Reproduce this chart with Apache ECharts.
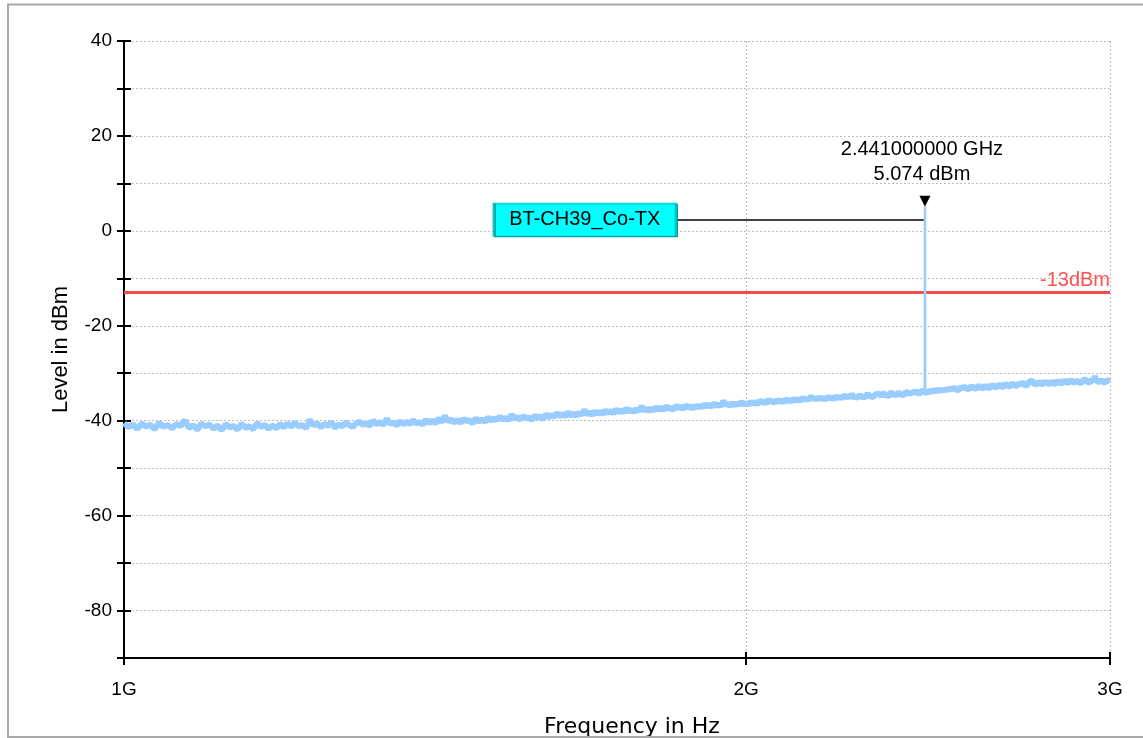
<!DOCTYPE html>
<html>
<head>
<meta charset="utf-8">
<script src="https://cdn.jsdelivr.net/npm/echarts@6/dist/echarts.min.js"></script>
<style>
html,body{margin:0;padding:0;background:#fff;}
#chart{width:1143px;height:738px;}
</style>
</head>
<body>
<div id="chart"></div>
<script>
// ---- data ----
const sweepStartGHz = 1.0;
const sweepStepGHz = 0.005;
const traceLevels = [
  -40.5,-41.4,-40.8,-41.7,-40.6,-41.2,-40.9,-41.8,-40.4,-41.3,-40.9,-41.6,-40.7,-41.1,-39.9,-41.5,-41.0,-41.9,-40.6,-41.2,
  -40.8,-41.7,-41.0,-42.0,-40.7,-41.4,-41.1,-41.9,-40.6,-41.5,-41.2,-41.8,-40.5,-41.3,-40.9,-41.7,-41.0,-41.6,-40.7,-41.4,
  -40.6,-41.3,-40.4,-41.2,-40.9,-41.6,-39.8,-41.0,-40.5,-41.4,-40.7,-41.1,-40.3,-41.5,-40.8,-41.2,-40.4,-40.9,-41.3,-40.6,
  -40.2,-40.9,-40.5,-41.1,-40.0,-40.7,-40.3,-40.9,-39.6,-40.6,-40.4,-41.0,-40.1,-40.8,-40.2,-40.7,-39.9,-40.6,-40.3,-40.8,
  -39.8,-40.5,-39.9,-40.6,-39.5,-40.3,-39.0,-40.2,-39.7,-40.4,-39.8,-40.5,-39.6,-40.1,-39.9,-40.6,-39.5,-40.2,-39.7,-40.3,
  -39.3,-40.0,-39.5,-39.9,-39.1,-39.8,-39.4,-39.9,-38.7,-39.6,-39.2,-39.8,-39.0,-39.5,-39.3,-39.9,-38.9,-39.4,-39.1,-39.7,
  -38.6,-39.3,-38.8,-39.2,-38.4,-39.0,-38.6,-39.1,-38.2,-38.9,-38.5,-39.0,-38.3,-38.8,-37.7,-38.7,-38.2,-38.8,-38.0,-38.6,
  -38.1,-38.6,-37.8,-38.4,-37.9,-38.5,-37.6,-38.2,-37.8,-38.3,-37.4,-38.1,-37.7,-38.2,-37.5,-38.0,-36.9,-37.9,-37.4,-38.0,
  -37.4,-37.9,-37.1,-37.7,-37.2,-37.8,-36.9,-37.5,-37.3,-37.7,-36.8,-37.4,-37.0,-37.6,-36.7,-37.3,-36.9,-37.5,-36.8,-37.2,
  -36.8,-37.2,-36.5,-37.0,-36.6,-37.1,-36.3,-36.9,-36.5,-37.0,-35.8,-36.7,-36.4,-36.9,-36.2,-36.8,-36.3,-36.7,-36.0,-36.6,
  -36.3,-36.7,-35.9,-36.5,-36.0,-36.6,-35.7,-36.2,-35.9,-36.4,-35.5,-36.1,-35.8,-36.3,-35.6,-36.0,-35.7,-36.2,-35.4,-35.9,
  -35.6,-36.0,-35.3,-35.8,-35.4,-35.9,-35.1,-35.6,-35.3,-35.7,-34.8,-35.5,-35.2,-35.6,-35.0,-35.5,-35.1,-35.6,-34.9,-35.3,
  -35.1,-35.5,-34.8,-35.3,-34.9,-35.4,-34.6,-35.1,-34.8,-35.2,-34.4,-35.0,-34.7,-35.1,-34.5,-35.0,-34.6,-35.0,-34.3,-34.8,
  -34.7,-35.0,-34.4,-34.8,-34.3,-34.9,-34.1,-34.6,-34.4,-34.8,-33.9,-34.5,-34.2,-34.6,-34.0,-34.5,-34.1,-34.6,-33.9,-34.3,
  -34.3,-34.6,-34.0,-34.4,-33.9,-34.5,-33.8,-34.2,-33.7,-34.4,-33.5,-34.2,-33.4,-34.1,-33.3,-34.0,-33.2,-33.9,-33.3,-33.8,
  -33.2,-33.7,-33.0,-33.5,-32.9,-33.4,-33.1,-33.6,-32.8,-33.3,-32.7,-33.2,-32.9,-33.4,-32.6,-33.1,-32.8,-33.3,-32.5,-33.0,
  -32.7,-33.2,-32.5,-33.0,-32.6,-33.1,-32.3,-32.8,-32.5,-33.0,-32.2,-32.7,-32.4,-32.9,-32.1,-32.6,-32.3,-32.8,-32.0,-32.5,
  -32.2,-32.7,-32.0,-32.5,-31.8,-32.4,-32.1,-32.6,-31.9,-32.3,-31.5,-32.2,-31.9,-32.4,-31.7,-32.2,-31.8,-32.3,-31.6,-32.1,
  -31.8,-32.3,-31.6,-32.1,-31.7,-32.2,-31.5,-32.0,-31.7,-32.1,-31.4,-31.9,-31.6,-32.1,-31.3,-31.8,-31.6,-32.0,-31.4,-31.9,
  -31.6,-32.1,-31.5,-31.9,-31.3,-31.8,-31.5,-32.0,-31.2,-31.7,-30.6,-31.6,-31.4,-31.9,-31.3,-31.8,-31.5,-32.0,-31.4,-31.8,
  -31.7
];
const peakFreqsGHz = [2.4405, 2.441, 2.4415];
const peakLevels = [-34.0, 5.074, -33.9];
const markerFreqGHz = 2.441;
const markerLevel = 5.074;
const markerName = 'BT-CH39_Co-TX';
const markerBoxFreqGHz = 1.671;
const markerBoxLevel = 2.4;
const limitLevel = -13;
const limitText = '-13dBm';
const xTickValuesGHz = [1, 2, 3];
const xTickLabels = ['1G', '2G', '3G'];

// ---- build the traces ----
const trace = traceLevels.map((lv, i) => [(sweepStartGHz + i * sweepStepGHz) * 1e9, lv]);
const peakTrace = peakFreqsGHz.map((f, i) => [f * 1e9, peakLevels[i]]);

const FONT = 'Liberation Sans, Arial, sans-serif';
const xTickVals = xTickValuesGHz.map(v => v * 1e9);
const xLabelFmt = v => {
  const g = Math.round(v / 1e8) / 10;
  const idx = xTickValuesGHz.indexOf(g);
  return idx >= 0 ? xTickLabels[idx] : '';
};

const chart = echarts.init(document.getElementById('chart'), null, {renderer: 'canvas'});
chart.setOption({
  animation: false,
  backgroundColor: '#fff',
  grid: {left: 124, right: 33, top: 41, bottom: 80, containLabel: false, outerBoundsMode: 'none'},
  graphic: [{
    type: 'rect', silent: true, z: 100,
    shape: {x: 8, y: 4.5, width: 1160, height: 732.5},
    style: {fill: 'none', stroke: '#a9a9a9', lineWidth: 2}
  }],
  xAxis: [{
    type: 'log', logBase: 10, min: 1e9, max: 3e9, position: 'bottom',
    name: 'Frequency in Hz', nameLocation: 'middle', nameGap: 58,
    nameTextStyle: {fontFamily: 'DejaVu Sans, sans-serif', fontSize: 22, color: '#000', padding: [0, 0, 0, 30]},
    axisLine: {show: true, onZero: false, lineStyle: {color: '#000', width: 2}},
    axisTick: {show: true, inside: false, length: 7, customValues: xTickVals, lineStyle: {color: '#000', width: 2}},
    axisLabel: {show: true, customValues: xTickVals, formatter: xLabelFmt, margin: 22, fontFamily: FONT, fontSize: 19, color: '#000', showMinLabel: true, showMaxLabel: true},
    splitLine: {show: true, lineStyle: {color: '#bdbdbd', width: 1, type: [2, 2]}},
    minorTick: {show: false}, minorSplitLine: {show: false}
  }, {
    type: 'log', logBase: 10, min: 1e9, max: 3e9, position: 'bottom',
    axisLine: {show: false, onZero: false},
    axisTick: {show: true, inside: true, length: 6, customValues: [2e9, 3e9], lineStyle: {color: '#000', width: 2}},
    axisLabel: {show: false},
    splitLine: {show: false}
  }],
  yAxis: [{
    type: 'value', min: -90, max: 40, interval: 10, position: 'left',
    name: 'Level in dBm', nameLocation: 'middle', nameRotate: 90, nameGap: 52,
    nameTextStyle: {fontFamily: FONT, fontSize: 22, color: '#000'},
    axisLine: {show: true, onZero: false, lineStyle: {color: '#000', width: 2}},
    axisTick: {show: true, inside: false, length: 7, lineStyle: {color: '#000', width: 2}},
    axisLabel: {show: true, margin: 12, fontFamily: FONT, fontSize: 19, color: '#000',
      formatter: v => (v % 20 === 0 ? String(v) : '')},
    splitLine: {show: true, lineStyle: {color: '#bdbdbd', width: 1, type: [2, 2]}}
  }, {
    type: 'value', min: -90, max: 40, interval: 10, position: 'left',
    axisLine: {show: false, onZero: false},
    axisTick: {show: true, inside: true, length: 7, lineStyle: {color: '#000', width: 2}},
    axisLabel: {show: false},
    splitLine: {show: false}
  }],
  series: [{
    type: 'line',
    xAxisIndex: 0, yAxisIndex: 0,
    data: trace,
    showSymbol: false,
    symbol: 'none',
    lineStyle: {color: '#99ccff', width: 6, join: 'bevel'},
    z: 3,
    markLine: {
      silent: true, symbol: 'none', z: 2,
      data: [
        {
          yAxis: limitLevel,
          lineStyle: {color: '#f24d4d', width: 3, type: 'solid'},
          label: {show: true, position: 'insideEndTop', formatter: limitText, distance: [0, 2],
            color: '#ff5050', fontFamily: FONT, fontSize: 20}
        },
        [
          {coord: [markerBoxFreqGHz * 1e9, markerBoxLevel], lineStyle: {color: '#000', width: 1.5, type: 'solid'}, label: {show: false}},
          {coord: [markerFreqGHz * 1e9, markerBoxLevel]}
        ]
      ]
    }
  }, {
    type: 'line',
    xAxisIndex: 0, yAxisIndex: 0,
    data: peakTrace,
    showSymbol: false,
    symbol: 'none',
    lineStyle: {color: '#99ccff', width: 2.5},
    z: 3,
    markPoint: {
      silent: true, z: 10,
      data: [
        {
          coord: [markerFreqGHz * 1e9, markerLevel],
          symbol: 'path://M0,0 L10,0 L5,10 Z',
          symbolSize: [11, 11],
          symbolOffset: [0, '-50%'],
          itemStyle: {color: '#000'},
          label: {show: true, position: 'top', distance: 9, offset: [-3, 0],
            formatter: (markerFreqGHz.toFixed(9)) + ' GHz\n' + markerLevel.toFixed(3) + ' dBm',
            color: '#000', fontFamily: FONT, fontSize: 20, lineHeight: 25, align: 'center'}
        },
        {
          coord: [markerBoxFreqGHz * 1e9, markerBoxLevel],
          symbol: 'rect',
          symbolSize: [182, 33],
          itemStyle: {color: '#00ffff', borderColor: '#00c4c4', borderWidth: 1,
            shadowColor: '#009a9a', shadowOffsetX: 1, shadowOffsetY: 1, shadowBlur: 0},
          label: {show: true, position: 'inside', formatter: markerName,
            color: '#000', fontFamily: FONT, fontSize: 20}
        }
      ]
    }
  }]
});
</script>
</body>
</html>
